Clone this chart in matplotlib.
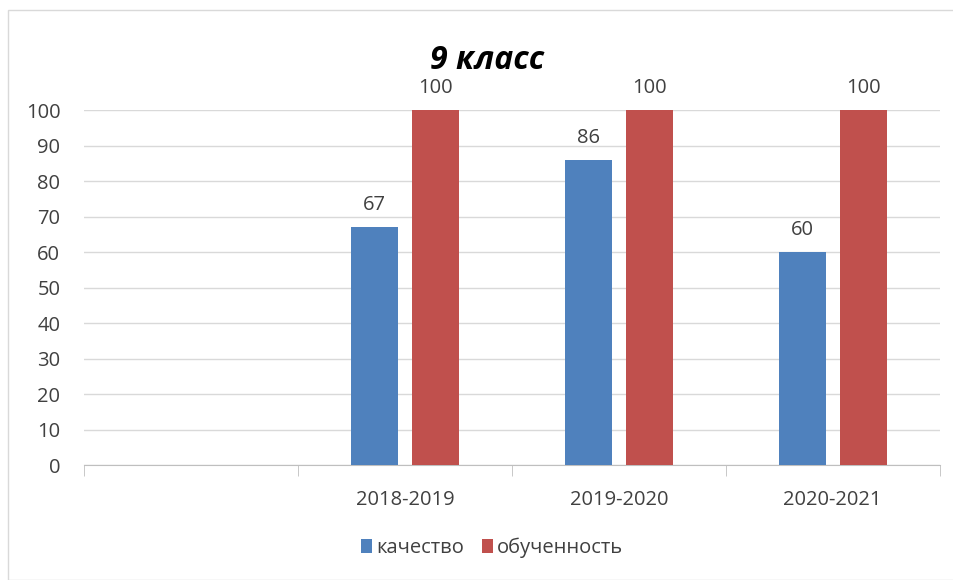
import matplotlib.pyplot as plt
import matplotlib.patches as mpatches
import numpy as np

categories = ['', '2018-2019', '2019-2020', '2020-2021']
kachestvo = [None, 67, 86, 60]
obuchennost = [None, 100, 100, 100]
series_names = ['качество', 'обученность']
colors = ['#4f81bd', '#c0504d']

plt.rcParams['font.family'] = ['Open Sans', 'DejaVu Sans']

fig = plt.figure(figsize=(9.54, 5.80), dpi=100)
ax = fig.add_axes([0.088, 0.198, 0.897, 0.612])

# рамка вокруг диаграммы
fig.patches.append(mpatches.Rectangle((8 / 954, 0), 2, 1 - 10 / 580, transform=fig.transFigure,
                                      fill=False, edgecolor='#d9d9d9', linewidth=1))

x = np.arange(len(categories))
w = 0.22
off = 0.143
for vals, name, c, d in [(kachestvo, series_names[0], colors[0], -off),
                         (obuchennost, series_names[1], colors[1], off)]:
    xs = [xi + d for xi, v in zip(x, vals) if v is not None]
    ys = [v for v in vals if v is not None]
    bars = ax.bar(xs, ys, width=w, color=c, label=name, zorder=3)
    for b, v in zip(bars, ys):
        ax.text(b.get_x() + b.get_width() / 2, v + 3.4, str(v), ha='center', va='bottom',
                fontsize=14.5, color='#404040')

ax.set_xlim(-0.5, len(categories) - 0.5)
ax.set_ylim(0, 100)
ax.set_yticks(range(0, 101, 10))
ax.yaxis.grid(True, color='#d9d9d9', linewidth=1, zorder=0)
ax.set_axisbelow(True)
for s in ['top', 'right', 'left']:
    ax.spines[s].set_visible(False)
ax.spines['bottom'].set_color('#bfbfbf')
ax.tick_params(axis='y', length=0, labelsize=14.5, labelcolor='#404040', pad=17)
ax.set_xticks(x)
ax.set_xticklabels(categories)
ax.tick_params(axis='x', length=0, labelsize=14.5, labelcolor='#404040', pad=18)
ax.set_xticks(np.arange(-0.5, len(categories), 1), minor=True)
ax.tick_params(axis='x', which='minor', length=8, color='#bfbfbf')

fig.text(0.511, 0.895, '9 класс', ha='center', va='center', fontsize=23,
         fontweight='bold', fontstyle='italic')

fig.legend(loc='center', bbox_to_anchor=(0.516, 0.055), ncol=2, frameon=False,
           fontsize=14.5, handlelength=0.55, handleheight=0.7, handletextpad=0.2,
           columnspacing=0.9, labelcolor='#404040')

fig.savefig('out.png', dpi=100)
